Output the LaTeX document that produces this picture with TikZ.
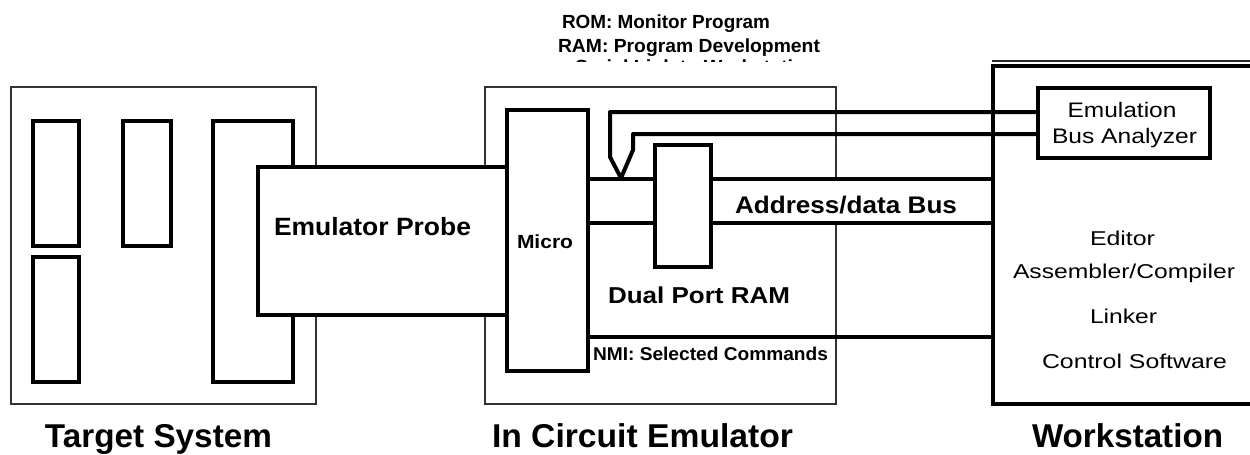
\documentclass[tikz,border=0pt]{standalone}
\usepackage{fontspec}
\setmainfont{Liberation Sans}
\usepackage{graphicx}
\newcommand{\fitw}[3]{\resizebox{#1pt}{\height}{\fontsize{#2}{#2}\selectfont #3}}
\tikzset{
  box/.style={draw=black, line width=4pt, inner sep=0pt, fill=white},
  thinbox/.style={draw=black!80, line width=1.3pt, inner sep=0pt},
  wire/.style={line width=4pt, line join=round},
  thinwire/.style={line width=1.4pt, draw=black!85},
  lbl/.style={anchor=base, inner sep=0pt}
}
\begin{document}
\begin{tikzpicture}[x=1pt,y=-1pt]
\useasboundingbox[fill=white] (0,0) rectangle (1250,455);
% Target system
\node[thinbox, minimum width=305pt, minimum height=317pt] (tsys) at (163.5,245.5) {};
\node[box, minimum width=46pt, minimum height=125pt] (chipa) at (56,183.5) {};
\node[box, minimum width=48pt, minimum height=125pt] (chipb) at (147,183.5) {};
\node[box, minimum width=46pt, minimum height=125pt] (chipc) at (56,319.5) {};
\node[box, minimum width=80pt, minimum height=261pt] (chipd) at (253,251.5) {};
% In circuit emulator
\node[thinbox, minimum width=351pt, minimum height=317pt] (ice) at (660.5,245.5) {};
% bus band
\fill[white] (588,179) rectangle (993,223);
% workstation
\draw[thinwire] (992,61) -- (1260,61);
\node[box, minimum width=267pt, minimum height=338pt] (ws) at (1126.5,235) {};
\node[box, line width=3.5pt, minimum width=172pt, minimum height=70pt] (emu) at (1124,123) {};
% probe, micro, ram
\node[box, line width=3.6pt, minimum width=249pt, minimum height=148pt] (probe) at (382.5,241) {};
\node[box, minimum width=81pt, minimum height=261pt] (micro) at (547.5,240.5) {};
\coordinate (vtip) at (621,178);
% connectors
\draw[wire] (micro.east |- 0,179) -- (ws.west |- 0,179);
\draw[wire] (micro.east |- 0,223) -- (ws.west |- 0,223);
\draw[wire] (micro.east |- 0,337) -- (ws.west |- 0,337);
\draw[wire] (emu.west |- 0,112) -| (610,157) -- (vtip);
\draw[wire] (emu.west |- 0,134) -| (633,150) -- (vtip);
\node[box, minimum width=56pt, minimum height=122pt] (ram) at (683,206) {};
% texts
\node[lbl] (trom) at (666,28) {\fitw{208}{19}{\bfseries ROM: Monitor Program}};
\node[lbl] (tram) at (689,52) {\fitw{262}{19}{\bfseries RAM: Program Development}};
\begin{scope}
\clip (500,40) rectangle (900,61);
\node[lbl] (tser) at (696,73) {\fitw{242}{19}{\bfseries Serial Link to Workstation}};
\end{scope}
\node[lbl] (tprobe) at (372.5,235) {\fitw{197}{25}{\bfseries Emulator Probe}};
\node[lbl] (tmicro) at (545,248) {\fitw{56}{19}{\bfseries Micro}};
\node[lbl] (tbus) at (846,213) {\fitw{222}{24}{\bfseries Address/data Bus}};
\node[lbl] (tdpr) at (699,303) {\fitw{182}{23}{\bfseries Dual Port RAM}};
\node[lbl] (tnmi) at (710.5,360) {\fitw{235}{18.5}{\bfseries NMI: Selected Commands}};
\node[lbl] (temu) at (1122,117) {\fitw{109}{21}{Emulation}};
\node[lbl] (tba) at (1124.5,143) {\fitw{145}{21}{Bus Analyzer}};
\node[lbl] (ted) at (1122.5,245) {\fitw{65}{20}{Editor}};
\node[lbl] (tasm) at (1124,278) {\fitw{222}{20}{Assembler/Compiler}};
\node[lbl] (tlnk) at (1123.5,323) {\fitw{67}{20}{Linker}};
\node[lbl] (tcs) at (1134.5,368) {\fitw{185}{20}{Control Software}};
\node[lbl] (ttarget) at (158.5,447) {\fitw{227}{33}{\bfseries Target System}};
\node[lbl] (tice) at (642.5,447) {\fitw{301}{33}{\bfseries In Circuit Emulator}};
\node[lbl] (tws) at (1127.5,447) {\fitw{191}{33}{\bfseries Workstation}};
\end{tikzpicture}
\end{document}
